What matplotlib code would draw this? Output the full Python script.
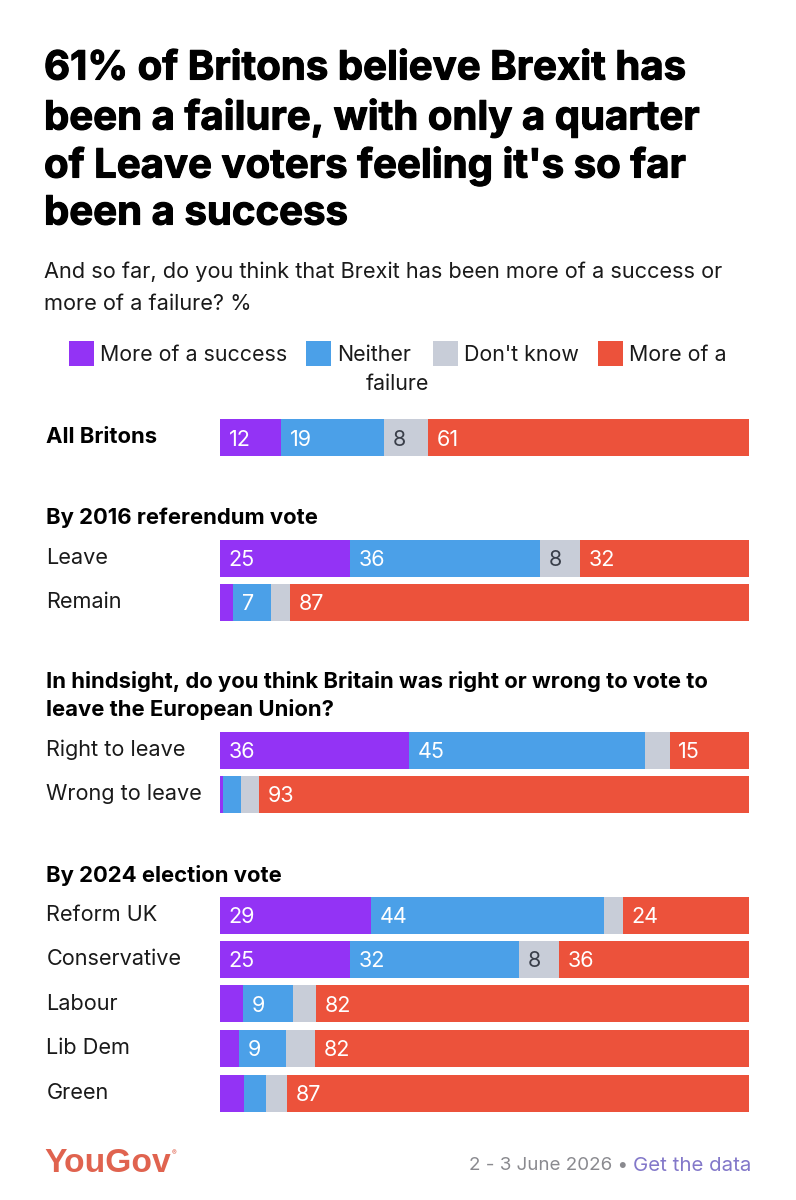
import matplotlib
matplotlib.use("Agg")
import matplotlib.pyplot as plt
import matplotlib.patheffects as pe
from matplotlib.patches import Rectangle

plt.rcParams["font.family"] = ["Inter", "DejaVu Sans"]

# series, as shares of each bar
categorias = ["All Britons", "Leave", "Remain", "Right to leave", "Wrong to leave",
              "Reform UK", "Conservative", "Labour", "Lib Dem", "Green"]
sucesso = [11.5, 24.5, 2.5, 35.7, 0.6, 28.5, 24.5, 4.4, 3.6, 4.6]
nenhum = [19.4, 36.0, 7.2, 44.5, 3.3, 44.0, 32.0, 9.3, 8.9, 4.0]
nao_sei = [8.3, 7.4, 3.6, 4.7, 3.5, 3.6, 7.6, 4.5, 5.4, 4.1]
fracasso = [60.8, 32.1, 86.7, 15.1, 92.6, 23.9, 35.9, 81.8, 82.1, 87.3]

# printed labels, None where the chart prints nothing
rot_sucesso = ["12", "25", None, "36", None, "29", "25", None, None, None]
rot_nenhum = ["19", "36", "7", "45", None, "44", "32", "9", "9", None]
rot_nao_sei = ["8", "8", None, None, None, None, "8", None, None, None]
rot_fracasso = ["61", "32", "87", "15", "93", "24", "36", "82", "82", "87"]

legenda = ["More of a success", "Neither", "Don't know", "More of a"]
cores = ["#9333F5", "#4BA0E8", "#C8CDD8", "#EC523B"]
cores_rot = ["white", "white", "#3A3F4A", "white"]

titulo = ["61% of Britons believe Brexit has", "been a failure, with only a quarter",
          "of Leave voters feeling it's so far", "been a success"]
pergunta = ["And so far, do you think that Brexit has been more of a success or",
            "more of a failure? %"]

W, H = 796, 1200
fig = plt.figure(figsize=(W / 100, H / 100), dpi=100)


def px(x, y):
    return x / W, 1 - y / H


def texto(x, y, s, **kw):
    kw.setdefault("va", "center")
    return fig.text(*px(x, y), s, **kw)


# axes spans the bar area in x, and the full page height in y
ax = fig.add_axes([220 / W, 0, 529.5 / W, 1])
ax.set_xlim(0, 100)
ax.set_ylim(H, 0)
ax.axis("off")

centros = [437.5, 558, 602.5, 750, 794.5, 915, 959, 1003.5, 1048, 1093]
altura = 37

esq = [0] * len(categorias)
series = [sucesso, nenhum, nao_sei, fracasso]
rotulos = [rot_sucesso, rot_nenhum, rot_nao_sei, rot_fracasso]
for serie, rots, cor, cor_rot in zip(series, rotulos, cores, cores_rot):
    ax.barh(centros, serie, left=esq, height=altura, color=cor, linewidth=0)
    for y, e, r in zip(centros, esq, rots):
        if r is not None:
            ax.annotate(r, (e, y), xytext=(6.3, 0), textcoords="offset points",
                        color=cor_rot, fontsize=15.5, va="center_baseline", ha="left")
    esq = [a + b for a, b in zip(esq, serie)]

# title is heavier than Inter bold, so thicken it a little
grosso = [pe.withStroke(linewidth=0.8, foreground="black")]
for y, linha in zip([69, 118, 166, 214], titulo):
    t = texto(44, y, linha, fontsize=28.9, fontweight="bold", color="black")
    t.set_path_effects(grosso)
for y, linha in zip([272, 304], pergunta):
    texto(44.5, y, linha, fontsize=15.65, color="#1a1a1a")

# legend, wrapped the way the source wraps it
for x, tx, nome, cor in zip([69, 306, 433, 598], [100, 337, 464, 629], legenda, cores):
    fig.add_artist(Rectangle(px(x, 366), 25 / W, 25 / H, color=cor, lw=0,
                             transform=fig.transFigure))
    texto(tx, 355, nome, fontsize=15.4, color="#1a1a1a")
texto(397, 384, "failure", fontsize=15.4, color="#1a1a1a", ha="center")

# row labels
for y, nome in zip(centros, categorias):
    if nome == "All Britons":
        texto(46.5, y, nome, fontsize=15.9, fontweight="bold", color="black")
    else:
        texto(46.5, y, nome, fontsize=15.6, color="#1a1a1a")

# group headings
cabecalhos = [(518, "By 2016 referendum vote"),
              (682, "In hindsight, do you think Britain was right or wrong to vote to"),
              (710, "leave the European Union?"),
              (875, "By 2024 election vote")]
for y, s in cabecalhos:
    texto(46.5, y, s, fontsize=15.9, fontweight="bold", color="black")

# footer
texto(44, 1163, "YouGov", fontsize=24.2, fontweight="bold", color="#E0634F", family="Liberation Sans")
texto(172, 1153, "®", fontsize=5, color="#E0634F")
fig.text(*px(628, 1166), "2 - 3 June 2026 •", fontsize=13.5, color="#8A8A8F", ha="right", va="center")
fig.text(*px(751, 1166), "Get the data", fontsize=14.7, color="#8378C9", ha="right", va="center")

fig.savefig("out.png", dpi=100, facecolor="white")
